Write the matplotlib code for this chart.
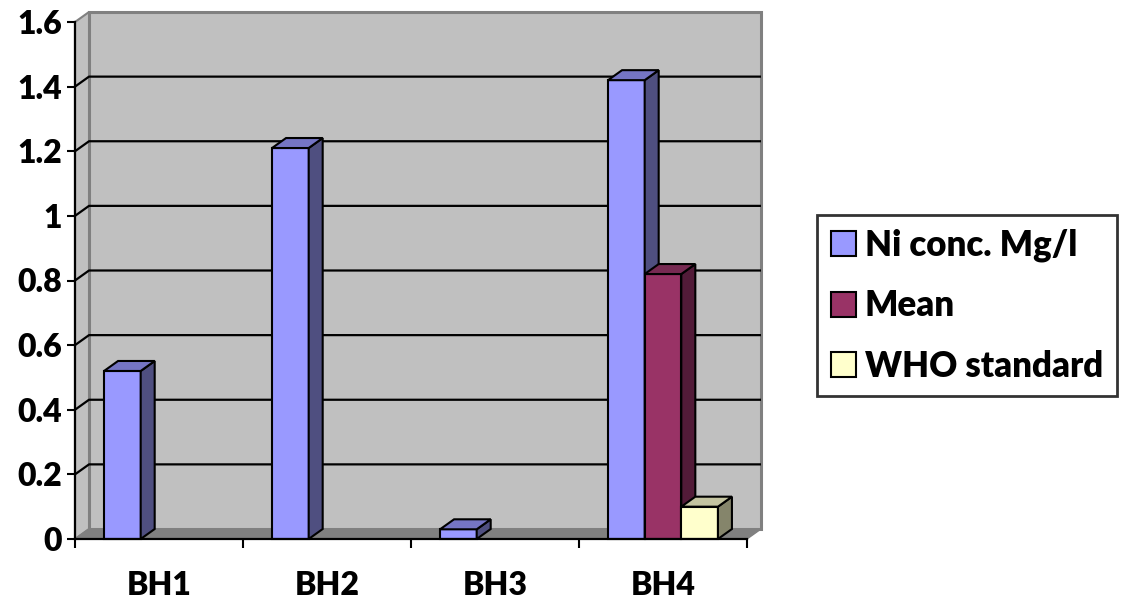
import numpy as np
import matplotlib
matplotlib.use("Agg")
import matplotlib.pyplot as plt
from matplotlib.patches import Polygon, Patch

plt.rcParams['font.family'] = ['Lato', 'DejaVu Sans']
plt.rcParams['font.weight'] = 'heavy'

# ---- data ----
categories = ['BH1', 'BH2', 'BH3', 'BH4']
ni_conc = [0.52, 1.21, 0.03, 1.42]
mean_vals = [None, None, None, 0.82]
who_std = [None, None, None, 0.10]
series_names = ['Ni conc. Mg/l', 'Mean', 'WHO standard']
y_ticks = [0, 0.2, 0.4, 0.6, 0.8, 1, 1.2, 1.4, 1.6]
y_tick_labels = ['0', '0.2', '0.4', '0.6', '0.8', '1', '1.2', '1.4', '1.6']

# face colours per series: (front, side, top)
palette = [
    ('#9999FF', '#4F4F80', '#7575C4'),
    ('#993366', '#521B38', '#772A52'),
    ('#FFFFCC', '#85856B', '#C4C4A0'),
]

W, H, DPI = 1121, 604, 100
fig = plt.figure(figsize=(W / DPI, H / DPI), dpi=DPI)
ax = fig.add_axes([75 / W, (H - 539) / H, 672 / W, 517 / H])
ax.patch.set_visible(False)

ymin, ymax = 0, 1.6
xmin, xmax = -0.5, len(categories) - 0.5
ax.set_xlim(xmin, xmax)
ax.set_ylim(ymin, ymax)

# depth of the 3-D box, in pixels, converted to data units
depth_px_x, depth_px_y = 14.0, 10.0
ax_w_px = 672.0
ax_h_px = 517.0
dx = depth_px_x * (xmax - xmin) / ax_w_px
dy = depth_px_y * (ymax - ymin) / ax_h_px

wall_gray = '#C0C0C0'
edge_gray = '#808080'

# back wall
ax.add_patch(Polygon([(xmin + dx, ymin + dy), (xmax + dx, ymin + dy),
                      (xmax + dx, ymax + dy), (xmin + dx, ymax + dy)],
                     closed=True, fc=wall_gray, ec=edge_gray, lw=2.2,
                     clip_on=False, zorder=1))
# side wall
ax.add_patch(Polygon([(xmin, ymin), (xmin + dx, ymin + dy),
                      (xmin + dx, ymax + dy), (xmin, ymax)],
                     closed=True, fc=wall_gray, ec=edge_gray, lw=1.5,
                     clip_on=False, zorder=1.1))
# floor
ax.add_patch(Polygon([(xmin, ymin), (xmax, ymin),
                      (xmax + dx, ymin + dy), (xmin + dx, ymin + dy)],
                     closed=True, fc=edge_gray, ec=edge_gray, lw=1,
                     clip_on=False, zorder=1.2))

# gridlines on the walls
for v in y_ticks[1:-1]:
    ax.plot([xmin, xmin + dx, xmax + dx], [v, v + dy, v + dy],
            color='black', lw=1.6, clip_on=False, zorder=1.5,
            solid_capstyle='butt')

# bars with side and top faces
bar_w = 0.218
offsets = [-bar_w, 0.0, bar_w]
all_series = [ni_conc, mean_vals, who_std]
x = np.arange(len(categories))
z = 3
for ci in range(len(categories)):
    for si, vals in enumerate(all_series):
        v = vals[ci]
        if v is None:
            continue
        front, side, top = palette[si]
        xc = x[ci] + offsets[si]
        x0, x1 = xc - bar_w / 2, xc + bar_w / 2
        ax.bar(xc, v, width=bar_w, color=front, edgecolor='black',
               linewidth=1.5, zorder=z, clip_on=False)
        ax.add_patch(Polygon([(x1, 0), (x1 + dx, dy), (x1 + dx, v + dy), (x1, v)],
                             closed=True, fc=side, ec='black', lw=1.5,
                             zorder=z, clip_on=False))
        ax.add_patch(Polygon([(x0, v), (x0 + dx, v + dy), (x1 + dx, v + dy), (x1, v)],
                             closed=True, fc=top, ec='black', lw=1.5,
                             zorder=z, clip_on=False))
        z += 1

# axes and ticks
for s in ('top', 'right'):
    ax.spines[s].set_visible(False)
for s in ('left', 'bottom'):
    ax.spines[s].set_linewidth(1.6)
    ax.spines[s].set_color('black')
    ax.spines[s].set_zorder(20)

ax.set_yticks(y_ticks)
ax.set_yticklabels(y_tick_labels)
ax.tick_params(axis='y', direction='out', length=6, width=1.5,
               labelsize=23, pad=3.5)
ax.set_xticks(x)
ax.set_xticklabels(categories)
ax.tick_params(axis='x', which='major', length=0, labelsize=23, pad=23)
ax.set_xticks(np.arange(len(categories) + 1) - 0.5, minor=True)
ax.tick_params(axis='x', which='minor', direction='out', length=6.5, width=1.5)
for lab in ax.get_xticklabels() + ax.get_yticklabels():
    lab.set_fontweight('heavy')

# legend
handles = [Patch(fc=p[0], ec='black', lw=1.5) for p in palette]
leg = fig.legend(handles, series_names, loc='upper left',
                 bbox_to_anchor=(817 / W, 1 - 215 / H),
                 prop={'size': 25, 'weight': 'heavy'},
                 frameon=True, fancybox=False, edgecolor='black',
                 borderaxespad=0, borderpad=0.4, handlelength=0.72,
                 handleheight=0.72, handletextpad=0.25, labelspacing=0.78)
leg.get_frame().set_linewidth(2)

fig.savefig('out.png', dpi=DPI)
